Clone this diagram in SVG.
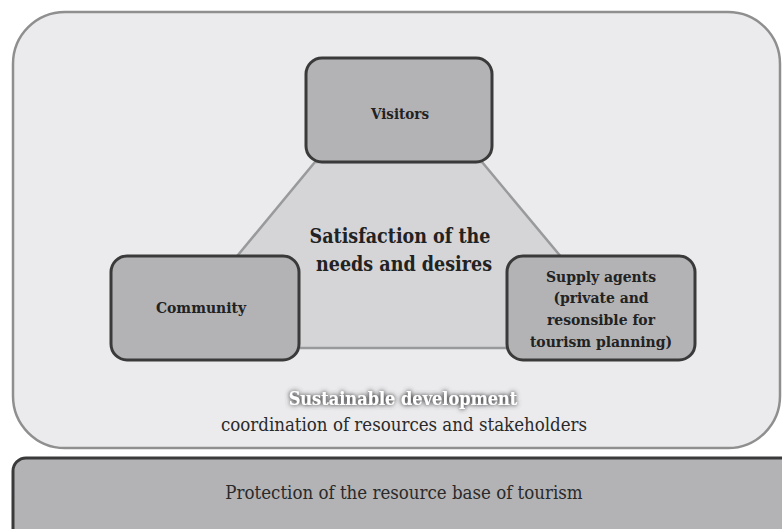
<svg xmlns="http://www.w3.org/2000/svg" width="782" height="529" viewBox="0 0 782 529">
<defs>
<filter id="glow" x="-10%" y="-60%" width="120%" height="220%">
<feGaussianBlur in="SourceAlpha" stdDeviation="2.5" result="b"/>
<feFlood flood-color="#555558" result="c"/>
<feComposite in="c" in2="b" operator="in" result="s0"/>
<feComponentTransfer in="s0" result="s"><feFuncA type="linear" slope="1.6"/></feComponentTransfer>
<feMerge><feMergeNode in="s"/><feMergeNode in="SourceGraphic"/></feMerge>
</filter>
</defs>
<style>
.node{fill:#b3b3b6;stroke:#3a3a3a;stroke-width:3}
.lbl{font-family:"DejaVu Serif Condensed","DejaVu Serif",serif;font-weight:bold;fill:#222;text-anchor:middle}
.reg{font-family:"DejaVu Serif Condensed","DejaVu Serif",serif;fill:#2a2a2a;text-anchor:middle}
.white{font-family:"DejaVu Serif Condensed","DejaVu Serif",serif;font-weight:bold;fill:#ffffff;text-anchor:middle}
</style>
<rect width="782" height="529" fill="#ffffff"/>
<g id="sustainable">
<rect x="13" y="12" width="767" height="436" rx="52" fill="#ebebed" stroke="#8f8f8f" stroke-width="2.5"/>
<text class="white" x="403" y="405" font-size="18" filter="url(#glow)">Sustainable development</text>
<text class="reg" x="404" y="431" font-size="18.5">coordination of resources and stakeholders</text>
</g>
<g id="satisfaction">
<polygon points="315,162 482,162 637,348 161,348" fill="#d5d5d7" stroke="#999a9c" stroke-width="2.5"/>
<text class="lbl" x="400" y="243" font-size="19.5">Satisfaction of the</text>
<text class="lbl" x="404" y="271" font-size="19.5">needs and desires</text>
</g>
<g id="connectors"/>
<g id="visitors">
<rect class="node" x="306" y="58" width="186" height="104" rx="16"/>
<text class="lbl" x="400" y="119" font-size="15">Visitors</text>
</g>
<g id="community">
<rect class="node" x="111" y="256" width="188" height="104" rx="16"/>
<text class="lbl" x="201" y="313" font-size="15.5">Community</text>
</g>
<g id="supply">
<rect class="node" x="507" y="256" width="188" height="104" rx="16"/>
<text class="lbl" x="601" y="282" font-size="15.5">Supply agents</text>
<text class="lbl" x="601" y="303" font-size="15.5">(private and</text>
<text class="lbl" x="601" y="325" font-size="15.5">resonsible for</text>
<text class="lbl" x="601" y="347" font-size="15.5">tourism planning)</text>
</g>
<g id="protection">
<rect class="node" x="13" y="458" width="790" height="90" rx="13"/>
<text class="reg" x="404" y="499" font-size="18.5">Protection of the resource base of tourism</text>
</g>
</svg>
